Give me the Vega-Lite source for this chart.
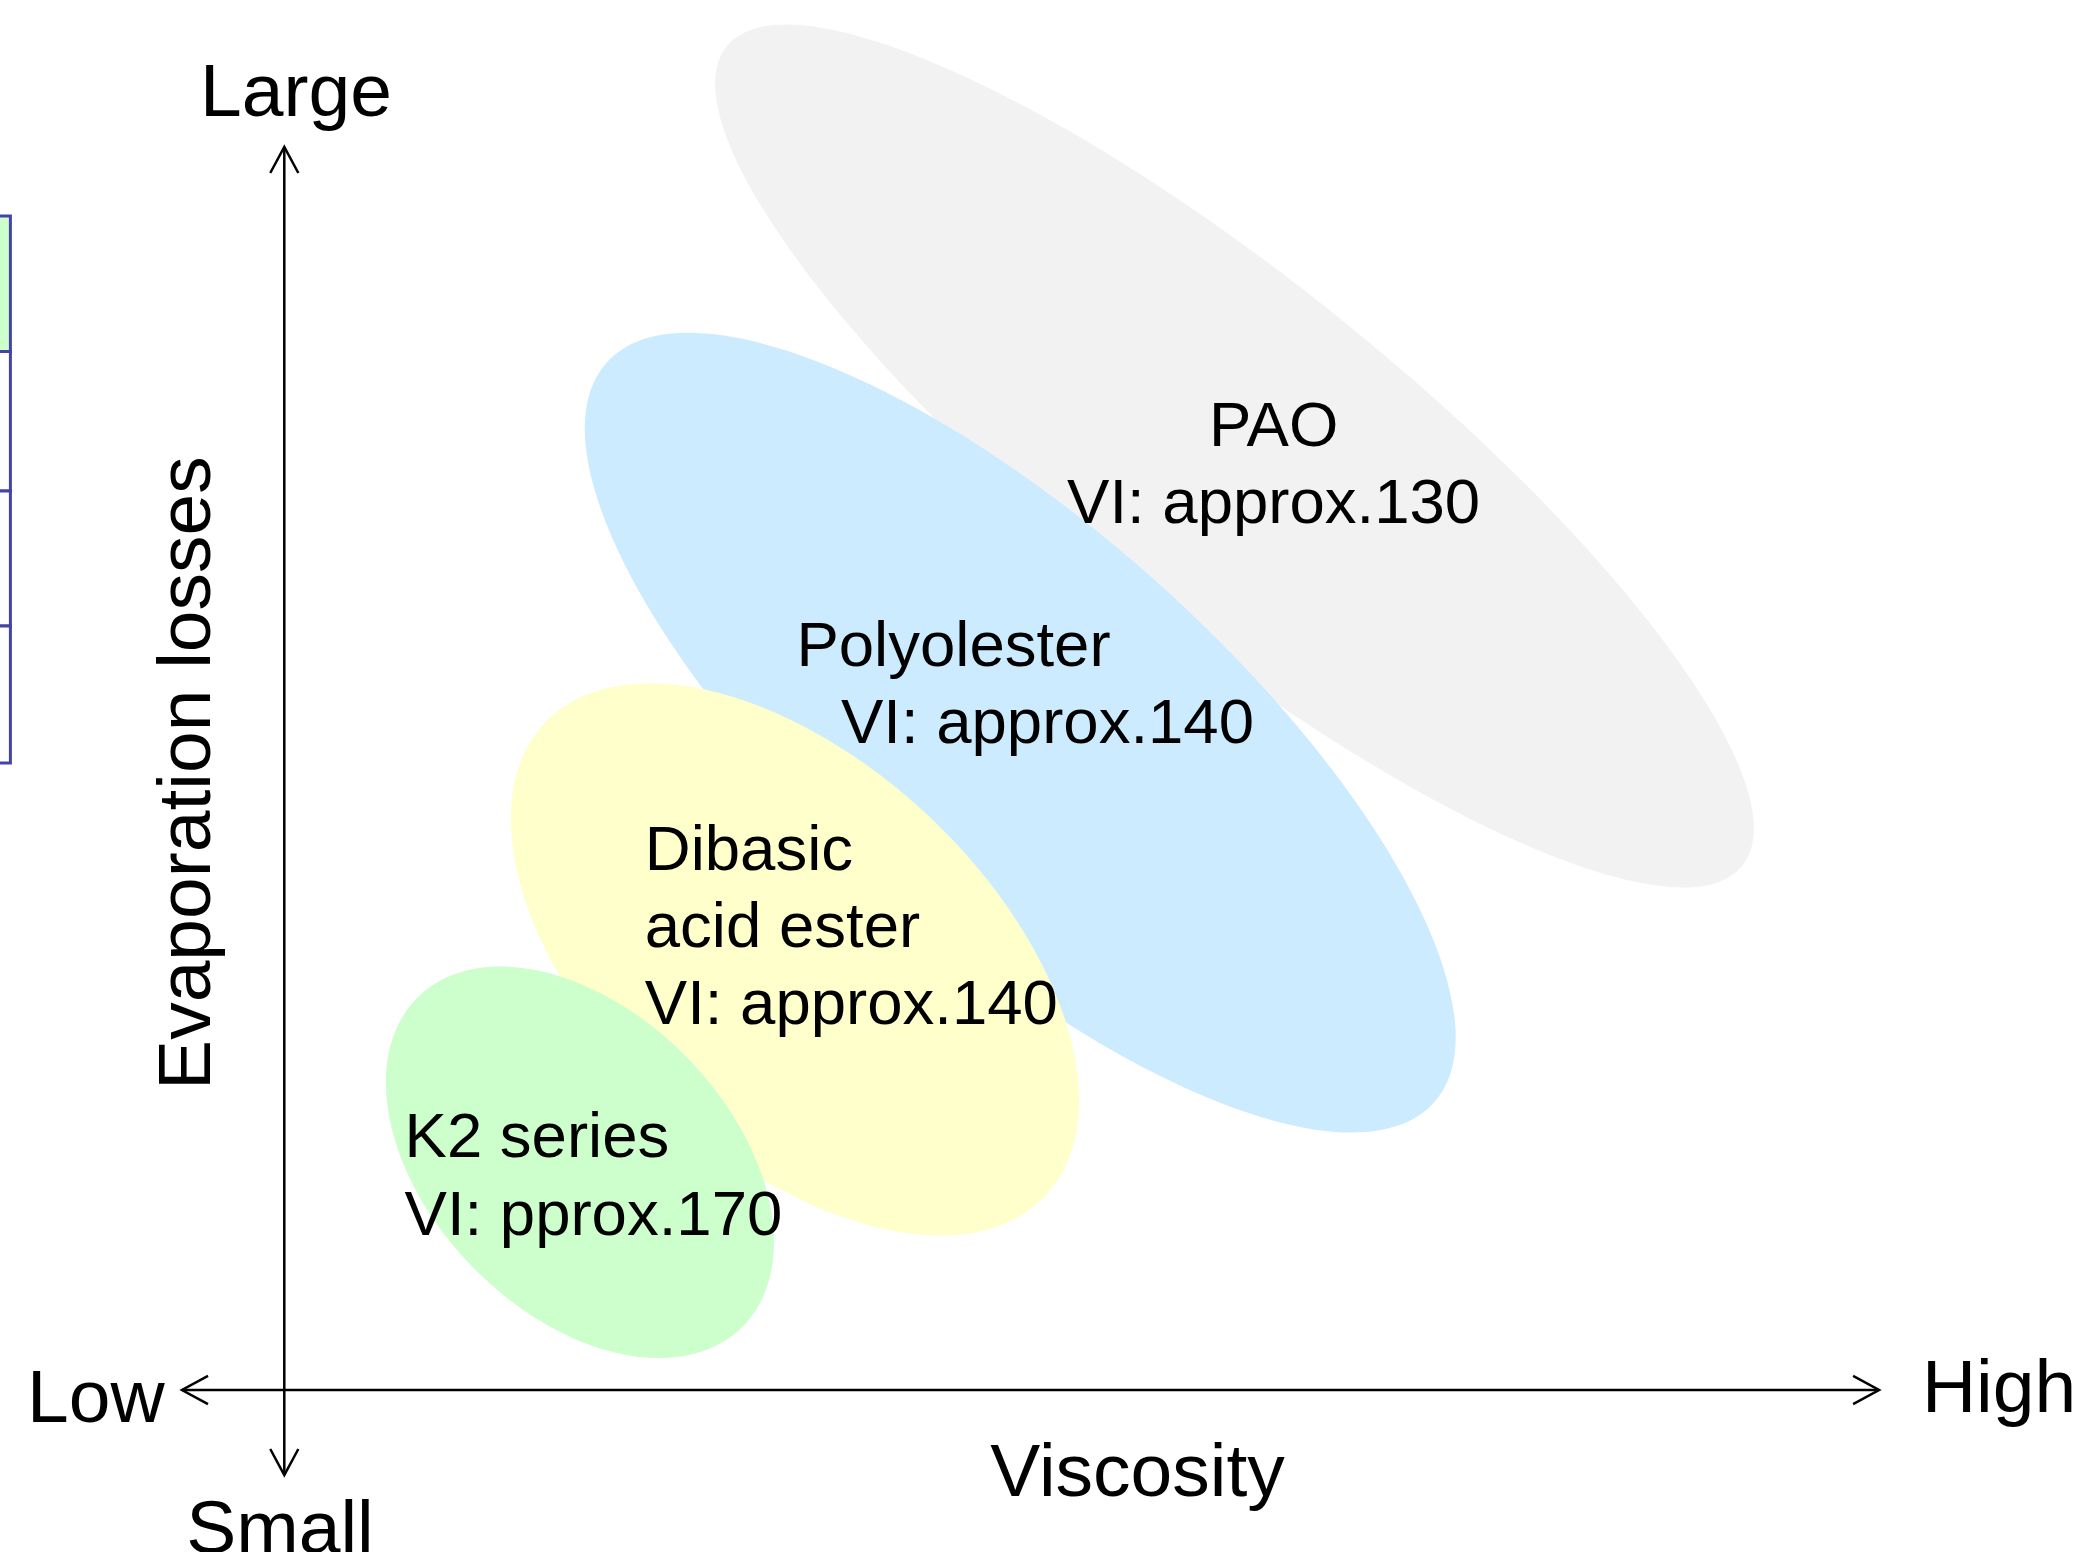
{
  "$schema": "https://vega.github.io/schema/vega-lite/v6.json",
  "width": 2080,
  "height": 1552,
  "autosize": {"type": "none"},
  "padding": 0,
  "background": "white",
  "config": {"view": {"stroke": null}, "text": {"font": "Liberation Sans", "color": "black"}},
  "layer": [
    {
      "data": {"values": [
        {"cell": 1, "top": 86.08, "bottom": 77.35, "fillc": "green"},
        {"cell": 2, "top": 77.35, "bottom": 68.36, "fillc": "white"},
        {"cell": 3, "top": 68.36, "bottom": 59.66, "fillc": "white"},
        {"cell": 4, "top": 59.66, "bottom": 50.84, "fillc": "white"}
      ]},
      "mark": {"type": "rect", "stroke": "#4444a8", "strokeWidth": 3},
      "encoding": {
        "x": {"datum": -1, "type": "quantitative", "scale": {"domain": [0, 100], "nice": false, "zero": false}, "axis": null},
        "x2": {"datum": 0.5},
        "y": {"field": "top", "type": "quantitative", "scale": {"domain": [0, 100], "nice": false, "zero": false}, "axis": null},
        "y2": {"field": "bottom"},
        "fill": {"field": "fillc", "type": "nominal", "scale": {"domain": ["green", "white"], "range": ["#ccffcc", "#ffffff"]}, "legend": null}
      }
    },
    {
      "data": {"values": [{"material": "PAO", "viscosity": 59.35, "evaporation": 70.62}]},
      "mark": {"type": "point", "filled": true, "opacity": 1, "color": "#f2f2f2", "strokeWidth": 0, "size": 1702572, "angle": 38.9,
        "shape": "M 1 0 C 1 0.1466 0.5523 0.2655 0 0.2655 C -0.5523 0.2655 -1 0.1466 -1 0 C -1 -0.1466 -0.5523 -0.2655 0 -0.2655 C 0.5523 -0.2655 1 -0.1466 1 0 Z"},
      "encoding": {
        "x": {"field": "viscosity", "type": "quantitative", "scale": {"domain": [0, 100], "nice": false, "zero": false}, "axis": null},
        "y": {"field": "evaporation", "type": "quantitative", "scale": {"domain": [0, 100], "nice": false, "zero": false}, "axis": null}
      }
    },
    {
      "data": {"values": [{"material": "Polyolester", "viscosity": 49.05, "evaporation": 52.79}]},
      "mark": {"type": "point", "filled": true, "opacity": 1, "color": "#cdebff", "strokeWidth": 0, "size": 1232052, "angle": 41.8,
        "shape": "M 1 0 C 1 0.2024 0.5523 0.3665 0 0.3665 C -0.5523 0.3665 -1 0.2024 -1 0 C -1 -0.2024 -0.5523 -0.3665 0 -0.3665 C 0.5523 -0.3665 1 -0.2024 1 0 Z"},
      "encoding": {
        "x": {"field": "viscosity", "type": "quantitative", "scale": {"domain": [0, 100], "nice": false, "zero": false}, "axis": null},
        "y": {"field": "evaporation", "type": "quantitative", "scale": {"domain": [0, 100], "nice": false, "zero": false}, "axis": null}
      }
    },
    {
      "data": {"values": [{"material": "Dibasic acid ester", "viscosity": 38.22, "evaporation": 38.18}]},
      "mark": {"type": "point", "filled": true, "opacity": 1, "color": "#ffffcc", "strokeWidth": 0, "size": 474124, "angle": 43.4,
        "shape": "M 1 0 C 1 0.3144 0.5523 0.5693 0 0.5693 C -0.5523 0.5693 -1 0.3144 -1 0 C -1 -0.3144 -0.5523 -0.5693 0 -0.5693 C 0.5523 -0.5693 1 -0.3144 1 0 Z"},
      "encoding": {
        "x": {"field": "viscosity", "type": "quantitative", "scale": {"domain": [0, 100], "nice": false, "zero": false}, "axis": null},
        "y": {"field": "evaporation", "type": "quantitative", "scale": {"domain": [0, 100], "nice": false, "zero": false}, "axis": null}
      }
    },
    {
      "data": {"values": [{"material": "K2 series", "viscosity": 27.88, "evaporation": 25.11}]},
      "mark": {"type": "point", "filled": true, "opacity": 1, "color": "#ccffcc", "strokeWidth": 0, "size": 213880, "angle": 45.6,
        "shape": "M 1 0 C 1 0.3581 0.5523 0.6483 0 0.6483 C -0.5523 0.6483 -1 0.3581 -1 0 C -1 -0.3581 -0.5523 -0.6483 0 -0.6483 C 0.5523 -0.6483 1 -0.3581 1 0 Z"},
      "encoding": {
        "x": {"field": "viscosity", "type": "quantitative", "scale": {"domain": [0, 100], "nice": false, "zero": false}, "axis": null},
        "y": {"field": "evaporation", "type": "quantitative", "scale": {"domain": [0, 100], "nice": false, "zero": false}, "axis": null}
      }
    },
    {
      "data": {"values": [{"axis": "Viscosity", "from": 8.75, "to": 90.34, "at": 10.438}]},
      "mark": {"type": "rule", "color": "black", "strokeWidth": 2.5},
      "encoding": {
        "x": {"field": "from", "type": "quantitative", "scale": {"domain": [0, 100], "nice": false, "zero": false}, "axis": null},
        "x2": {"field": "to"},
        "y": {"field": "at", "type": "quantitative", "scale": {"domain": [0, 100], "nice": false, "zero": false}, "axis": null}
      }
    },
    {
      "data": {"values": [{"axis": "Evaporation losses", "from": 4.961, "to": 90.528, "at": 13.668}]},
      "mark": {"type": "rule", "color": "black", "strokeWidth": 2.5},
      "encoding": {
        "x": {"field": "at", "type": "quantitative", "scale": {"domain": [0, 100], "nice": false, "zero": false}, "axis": null},
        "y": {"field": "from", "type": "quantitative", "scale": {"domain": [0, 100], "nice": false, "zero": false}, "axis": null},
        "y2": {"field": "to"}
      }
    },
    {
      "data": {"values": [
        {"dir": "right", "x": 90.34, "y": 10.438},
        {"dir": "left", "x": 8.75, "y": 10.438},
        {"dir": "up", "x": 13.668, "y": 90.528},
        {"dir": "down", "x": 13.668, "y": 4.961}
      ]},
      "mark": {"type": "point", "filled": false, "opacity": 1, "color": "black", "strokeWidth": 2.5, "size": 2704},
      "encoding": {
        "x": {"field": "x", "type": "quantitative", "scale": {"domain": [0, 100], "nice": false, "zero": false}, "axis": null},
        "y": {"field": "y", "type": "quantitative", "scale": {"domain": [0, 100], "nice": false, "zero": false}, "axis": null},
        "shape": {"field": "dir", "type": "nominal", "legend": null, "scale": {"domain": ["right", "left", "up", "down"], "range": ["M -1 -0.54 L 0 0 L -1 0.54", "M 1 -0.54 L 0 0 L 1 0.54", "M -0.54 1 L 0 0 L 0.54 1", "M -0.54 -1 L 0 0 L 0.54 -1"]}}
      }
    },
    {
      "data": {"values": [
        {"label": "PAO", "x": 61.23, "y": 71.26},
        {"label": "VI: approx.130", "x": 61.23, "y": 66.30}
      ]},
      "mark": {"type": "text", "align": "center", "baseline": "alphabetic", "fontSize": 63.5},
      "encoding": {
        "x": {"field": "x", "type": "quantitative", "scale": {"domain": [0, 100], "nice": false, "zero": false}, "axis": null},
        "y": {"field": "y", "type": "quantitative", "scale": {"domain": [0, 100], "nice": false, "zero": false}, "axis": null},
        "text": {"field": "label"}
      }
    },
    {
      "data": {"values": [
        {"label": "Polyolester", "x": 38.29, "y": 57.09},
        {"label": "VI: approx.140", "x": 40.43, "y": 52.13},
        {"label": "Dibasic", "x": 31.0, "y": 43.94},
        {"label": "acid ester", "x": 31.0, "y": 38.98},
        {"label": "VI: approx.140", "x": 31.0, "y": 34.02},
        {"label": "K2 series", "x": 19.45, "y": 25.45},
        {"label": "VI: pprox.170", "x": 19.45, "y": 20.43}
      ]},
      "mark": {"type": "text", "align": "left", "baseline": "alphabetic", "fontSize": 63.5},
      "encoding": {
        "x": {"field": "x", "type": "quantitative", "scale": {"domain": [0, 100], "nice": false, "zero": false}, "axis": null},
        "y": {"field": "y", "type": "quantitative", "scale": {"domain": [0, 100], "nice": false, "zero": false}, "axis": null},
        "text": {"field": "label"}
      }
    },
    {
      "data": {"values": [
        {"label": "Large", "x": 14.23, "y": 92.53},
        {"label": "Small", "x": 13.46, "y": -0.05},
        {"label": "Viscosity", "x": 54.69, "y": 3.61}
      ]},
      "mark": {"type": "text", "align": "center", "baseline": "alphabetic", "fontSize": 75},
      "encoding": {
        "x": {"field": "x", "type": "quantitative", "scale": {"domain": [0, 100], "nice": false, "zero": false}, "axis": null},
        "y": {"field": "y", "type": "quantitative", "scale": {"domain": [0, 100], "nice": false, "zero": false}, "axis": null},
        "text": {"field": "label"}
      }
    },
    {
      "data": {"values": [
        {"label": "Low", "x": 1.3, "y": 8.4},
        {"label": "High", "x": 92.4, "y": 9.04}
      ]},
      "mark": {"type": "text", "align": "left", "baseline": "alphabetic", "fontSize": 75},
      "encoding": {
        "x": {"field": "x", "type": "quantitative", "scale": {"domain": [0, 100], "nice": false, "zero": false}, "axis": null},
        "y": {"field": "y", "type": "quantitative", "scale": {"domain": [0, 100], "nice": false, "zero": false}, "axis": null},
        "text": {"field": "label"}
      }
    },
    {
      "data": {"values": [{"label": "Evaporation losses", "x": 10.12, "y": 50.19}]},
      "mark": {"type": "text", "align": "center", "baseline": "alphabetic", "fontSize": 75, "angle": 270},
      "encoding": {
        "x": {"field": "x", "type": "quantitative", "scale": {"domain": [0, 100], "nice": false, "zero": false}, "axis": null},
        "y": {"field": "y", "type": "quantitative", "scale": {"domain": [0, 100], "nice": false, "zero": false}, "axis": null},
        "text": {"field": "label"}
      }
    }
  ]
}
